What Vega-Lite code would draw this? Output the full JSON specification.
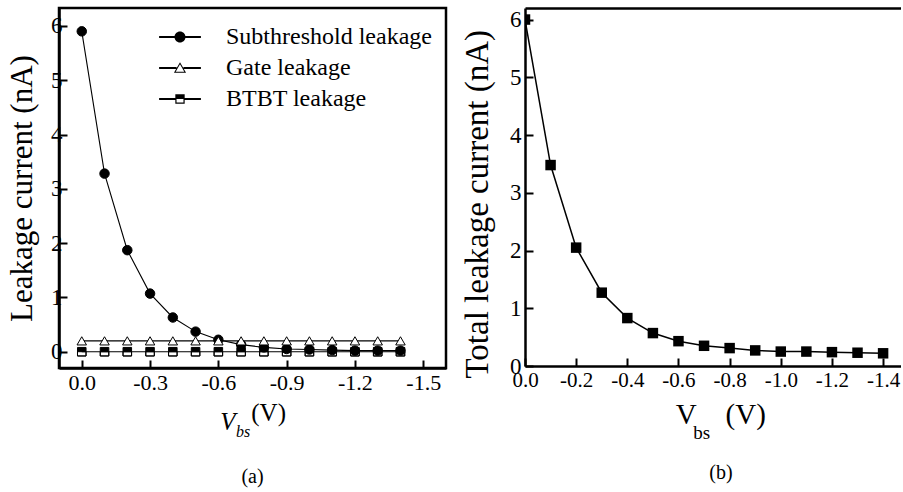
{
  "$schema": "https://vega.github.io/schema/vega-lite/v6.json",
  "background": "white",
  "padding": {"left": 5, "top": 6, "right": 0, "bottom": 0},
  "config": {
    "font": "Liberation Serif",
    "axis": {"labelFont": "Liberation Serif", "titleFont": "Liberation Serif", "labelColor": "black", "titleColor": "black", "domainColor": "black", "tickColor": "black", "domainWidth": 2.5, "tickWidth": 2, "grid": false, "titleFontWeight": "normal", "labelFlush": false},
    "legend": {"labelFont": "Liberation Serif"},
    "title": {"font": "Liberation Serif", "fontWeight": "normal", "color": "black"}
  },
  "datasets": {
    "a": [
      {"v": 0.0, "series": "Subthreshold leakage", "i": 5.9},
      {"v": -0.1, "series": "Subthreshold leakage", "i": 3.28},
      {"v": -0.2, "series": "Subthreshold leakage", "i": 1.87},
      {"v": -0.3, "series": "Subthreshold leakage", "i": 1.07},
      {"v": -0.4, "series": "Subthreshold leakage", "i": 0.63},
      {"v": -0.5, "series": "Subthreshold leakage", "i": 0.37},
      {"v": -0.6, "series": "Subthreshold leakage", "i": 0.22},
      {"v": -0.7, "series": "Subthreshold leakage", "i": 0.13},
      {"v": -0.8, "series": "Subthreshold leakage", "i": 0.08},
      {"v": -0.9, "series": "Subthreshold leakage", "i": 0.05},
      {"v": -1.0, "series": "Subthreshold leakage", "i": 0.04},
      {"v": -1.1, "series": "Subthreshold leakage", "i": 0.03},
      {"v": -1.2, "series": "Subthreshold leakage", "i": 0.02},
      {"v": -1.3, "series": "Subthreshold leakage", "i": 0.02},
      {"v": -1.4, "series": "Subthreshold leakage", "i": 0.02},
      {"v": 0.0, "series": "Gate leakage", "i": 0.2},
      {"v": -0.1, "series": "Gate leakage", "i": 0.2},
      {"v": -0.2, "series": "Gate leakage", "i": 0.2},
      {"v": -0.3, "series": "Gate leakage", "i": 0.2},
      {"v": -0.4, "series": "Gate leakage", "i": 0.2},
      {"v": -0.5, "series": "Gate leakage", "i": 0.2},
      {"v": -0.6, "series": "Gate leakage", "i": 0.2},
      {"v": -0.7, "series": "Gate leakage", "i": 0.2},
      {"v": -0.8, "series": "Gate leakage", "i": 0.2},
      {"v": -0.9, "series": "Gate leakage", "i": 0.2},
      {"v": -1.0, "series": "Gate leakage", "i": 0.2},
      {"v": -1.1, "series": "Gate leakage", "i": 0.2},
      {"v": -1.2, "series": "Gate leakage", "i": 0.2},
      {"v": -1.3, "series": "Gate leakage", "i": 0.2},
      {"v": -1.4, "series": "Gate leakage", "i": 0.2},
      {"v": 0.0, "series": "BTBT leakage", "i": 0.0},
      {"v": -0.1, "series": "BTBT leakage", "i": 0.0},
      {"v": -0.2, "series": "BTBT leakage", "i": 0.0},
      {"v": -0.3, "series": "BTBT leakage", "i": 0.0},
      {"v": -0.4, "series": "BTBT leakage", "i": 0.0},
      {"v": -0.5, "series": "BTBT leakage", "i": 0.0},
      {"v": -0.6, "series": "BTBT leakage", "i": 0.0},
      {"v": -0.7, "series": "BTBT leakage", "i": 0.0},
      {"v": -0.8, "series": "BTBT leakage", "i": 0.0},
      {"v": -0.9, "series": "BTBT leakage", "i": 0.0},
      {"v": -1.0, "series": "BTBT leakage", "i": 0.0},
      {"v": -1.1, "series": "BTBT leakage", "i": 0.0},
      {"v": -1.2, "series": "BTBT leakage", "i": 0.0},
      {"v": -1.3, "series": "BTBT leakage", "i": 0.0},
      {"v": -1.4, "series": "BTBT leakage", "i": 0.0}
    ],
    "b": [
      {"v": 0.0, "total": 6.0},
      {"v": -0.1, "total": 3.48},
      {"v": -0.2, "total": 2.05},
      {"v": -0.3, "total": 1.27},
      {"v": -0.4, "total": 0.83},
      {"v": -0.5, "total": 0.57},
      {"v": -0.6, "total": 0.43},
      {"v": -0.7, "total": 0.35},
      {"v": -0.8, "total": 0.31},
      {"v": -0.9, "total": 0.27},
      {"v": -1.0, "total": 0.25},
      {"v": -1.1, "total": 0.25},
      {"v": -1.2, "total": 0.24},
      {"v": -1.3, "total": 0.23},
      {"v": -1.4, "total": 0.22}
    ]
  },
  "spacing": 13,
  "hconcat": [
    {
      "width": 387,
      "height": 360,
      "view": {"stroke": "black", "strokeWidth": 2.5},
      "title": {"text": "(a)", "orient": "bottom", "fontSize": 20, "offset": 28},
      "data": {"name": "a"},
      "encoding": {
        "y": {"field": "i", "type": "quantitative", "scale": {"domain": [-0.3, 6.33], "nice": false, "zero": false},
          "axis": {"values": [0, 1, 2, 3, 4, 5, 6], "format": "d", "tickSize": -8, "labelPadding": 5, "labelFont": "Liberation Serif", "labelFontSize": 23, "title": "Leakage current (nA)", "titleFontSize": 31, "titlePadding": 12}}
      },
      "layer": [
        {
          "mark": {"type": "line", "color": "black", "strokeWidth": 1.1},
          "encoding": {
            "detail": {"field": "series"},
            "x": {"field": "v", "type": "quantitative", "scale": {"domain": [-1.6, 0.1], "reverse": true, "nice": false, "zero": false},
              "axis": {"orient": "bottom", "values": [0, -0.3, -0.6, -0.9, -1.2, -1.5], "labelExpr": "datum.value == 0 ? '0.0' : '-' + format(-datum.value, '.1f')", "tickSize": -8, "labelPadding": 12, "labelFont": "Liberation Serif", "labelFontSize": 22, "title": "\u200b\u00a0\u00a0\u00a0\u00a0\u00a0(V)", "titleFontSize": 25, "titlePadding": 7}}
          }
        },
        {
          "mark": {"type": "point", "filled": true, "stroke": "black", "strokeWidth": 1, "opacity": 1, "size": 90},
          "encoding": {
            "x": {"field": "v", "type": "quantitative", "scale": {"domain": [-1.6, 0.1], "reverse": true, "nice": false, "zero": false},
              "axis": {"orient": "bottom", "labels": false, "ticks": false, "domain": false, "title": "V\u00a0\u00a0\u00a0\u00a0\u00a0\u00a0\u00a0\u00a0\u200b", "titleFontSize": 25, "titleFontStyle": "italic", "titlePadding": 41}},
            "fill": {"field": "series", "type": "nominal", "legend": null,
              "scale": {"domain": ["Subthreshold leakage", "Gate leakage", "BTBT leakage"], "range": ["black", "white", "black"]}},
            "shape": {"field": "series", "type": "nominal", "legend": null,
              "scale": {"domain": ["Subthreshold leakage", "Gate leakage", "BTBT leakage"], "range": ["circle", "triangle-up", "M-0.9,-0.9H0.9V0.9H-0.9ZM-0.9,0V0.9H0.9V0Z"]}}
          }
        },
        {
          "mark": {"type": "point", "filled": true, "color": "black", "opacity": 0},
          "encoding": {
            "x": {"field": "v", "type": "quantitative", "scale": {"domain": [-1.6, 0.1], "reverse": true, "nice": false, "zero": false},
              "axis": {"orient": "bottom", "labels": false, "ticks": false, "domain": false, "title": "bs\u00a0\u00a0\u00a0\u00a0\u00a0\u200b", "titleFontSize": 16, "titleFontStyle": "italic", "titlePadding": 55}},
            "shape": {"field": "series", "type": "nominal",
              "scale": {"domain": ["Subthreshold leakage", "Gate leakage", "BTBT leakage"], "range": [
                "M-3.8,-0.17H-0.9V0.17H-3.8Z M0.9,-0.17H3.8V0.17H0.9Z M1,0A1,1,0,1,1,-1,0A1,1,0,1,1,1,0Z",
                "M-3.8,-0.17H-0.62V0.17H-3.8Z M0.62,-0.17H3.8V0.17H0.62Z M0,-1.05L1.1,0.85L-1.1,0.85Z M0,-0.66L-0.78,0.67L0.78,0.67Z",
                "M-3.8,-0.17H-0.85V0.17H-3.8Z M0.85,-0.17H3.8V0.17H0.85Z M-0.85,-0.85H0.85V0.85H-0.85Z M-0.63,0V0.63H0.63V0Z"]},
              "legend": {"orient": "none", "legendX": 109, "legendY": 17, "title": null, "padding": 0, "symbolSize": 121, "symbolOffset": 0, "symbolOpacity": 1, "symbolFillColor": "black", "symbolStrokeWidth": 0, "labelOffset": 34, "labelFontSize": 24, "labelFont": "Liberation Serif", "labelColor": "black", "labelLimit": 400, "rowPadding": 7}}
          }
        }
      ],
      "resolve": {"axis": {"x": "independent"}, "scale": {"shape": "independent"}}
    },
    {
      "width": 376,
      "height": 358,
      "view": {"stroke": null},
      "title": {"text": "(b)", "orient": "bottom", "fontSize": 20, "offset": 21, "dx": 8},
      "data": {"name": "b"},
      "encoding": {
        "y": {"field": "total", "type": "quantitative", "scale": {"domain": [0, 6.2], "nice": false, "zero": false},
          "axis": {"values": [0, 1, 2, 3, 4, 5, 6], "format": "d", "tickSize": -8, "labelPadding": 12, "labelFont": "Liberation Serif", "labelFontSize": 23, "title": "Total leakage current (nA)", "titleFontSize": 33, "titlePadding": 15, "titleAnchor": "start", "titleY": 370}}
      },
      "layer": [
        {
          "mark": {"type": "line", "color": "black", "strokeWidth": 1.5, "clip": true},
          "encoding": {
            "x": {"field": "v", "type": "quantitative", "scale": {"domain": [-1.47, 0], "reverse": true, "nice": false, "zero": false},
              "axis": {"orient": "bottom", "values": [0, -0.2, -0.4, -0.6, -0.8, -1.0, -1.2, -1.4], "labelExpr": "datum.value == 0 ? '0.0' : '-' + format(-datum.value, '.1f')", "tickSize": -8, "labelPadding": 11, "labelFont": "Liberation Serif", "labelFontSize": 21, "title": "\u200b\u00a0\u00a0V\u00a0\u00a0\u00a0\u00a0(V)", "titleFontSize": 29, "titlePadding": 10}}
          }
        },
        {
          "mark": {"type": "point", "filled": true, "shape": "square", "color": "black", "size": 110, "opacity": 1, "clip": true},
          "encoding": {
            "x": {"field": "v", "type": "quantitative", "scale": {"domain": [-1.47, 0], "reverse": true, "nice": false, "zero": false},
              "axis": {"orient": "top", "labels": false, "ticks": false, "title": null, "domainWidth": 2.5}}
          }
        },
        {
          "mark": {"type": "point", "opacity": 0},
          "encoding": {
            "x": {"field": "v", "type": "quantitative", "scale": {"domain": [-1.47, 0], "reverse": true, "nice": false, "zero": false},
              "axis": {"orient": "bottom", "labels": false, "ticks": false, "domain": false, "title": "bs\u00a0\u00a0\u00a0\u00a0\u00a0\u200b", "titleFontSize": 19, "titlePadding": 57}}
          }
        }
      ],
      "resolve": {"axis": {"x": "independent"}}
    }
  ]
}
